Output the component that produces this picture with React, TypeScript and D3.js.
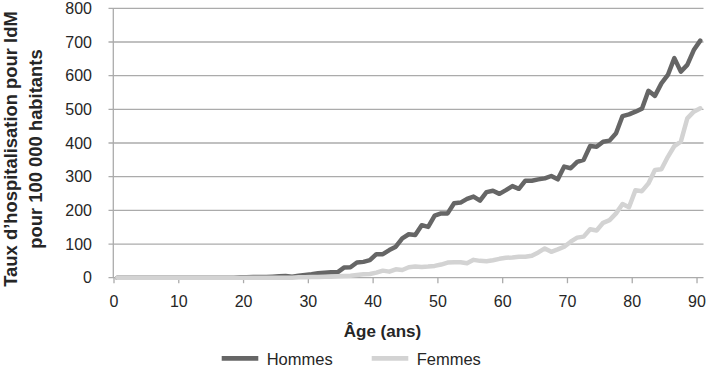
import React from 'react';
import * as d3 from 'd3';

// age in years, 0..90
const ages = d3.range(0, 91);

// hospitalisation rate per 100 000 — men
const hommes = [
  0, 0, 0, 0, 0, 0, 0, 0, 0, 0,
  0, 0, 0, 0, 0, 0, 0, 0, 0, 1,
  1, 2, 2, 2, 3, 4, 5, 3, 6, 8,
  10, 13, 15, 16, 16, 30, 31, 45, 47, 52,
  70, 70, 82, 92, 117, 129, 127, 156, 151, 184,
  191, 191, 221, 223, 234, 241, 229, 254, 258, 249,
  260, 272, 264, 288, 288, 292, 295, 302, 292, 330,
  325, 344, 350, 391, 389, 404, 407, 429, 480, 485,
  493, 502, 555, 540, 577, 602, 652, 612, 632, 676,
  704,
];

// women
const femmes = [
  0, 0, 0, 0, 0, 0, 0, 0, 0, 0,
  0, 0, 0, 0, 0, 0, 0, 0, 0, 0,
  0, 0, 0, 0, 0, 0, 0, 0, 1, 1,
  2, 2, 3, 3, 4, 5, 6, 8, 10, 11,
  15, 21, 18, 25, 23, 31, 33, 32, 33, 35,
  39, 45, 46, 46, 43, 53, 50, 49, 52, 56,
  59, 60, 62, 62, 65, 75, 87, 77, 84, 92,
  107, 119, 122, 144, 140, 163, 171, 191, 219, 209,
  260, 257, 280, 320, 322, 359, 391, 404, 473, 493,
  503,
];

const yTicks = [0, 100, 200, 300, 400, 500, 600, 700, 800];
const xTicks = [0, 10, 20, 30, 40, 50, 60, 70, 80, 90];

const series = [
  { name: 'Hommes', values: hommes, color: '#666666' },
  { name: 'Femmes', values: femmes, color: '#d3d3d3' },
];

const FONT = '"Liberation Sans", Arial, sans-serif';

export default function App() {
  const W = 710;
  const H = 367;
  const left = 114;
  const right = 703.5;
  const top = 8.3;
  const bottom = 277.7;

  const x = d3.scaleLinear().domain([0, 91]).range([left, right]);
  const y = d3.scaleLinear().domain([0, 800]).range([bottom, top]);

  // points sit in the middle of each year of age
  const line = d3.line<number>()
    .x((_, i) => x(ages[i] + 0.5))
    .y((d) => y(d));

  const grid = '#ababab';
  const text = '#262626';

  return (
    <div style={{ position: 'fixed', left: 0, top: 0 }}>
      <svg width={W} height={H} style={{ display: 'block', background: '#fff' }}>
        {/* gridlines + y ticks */}
        {yTicks.map((t) => (
          <g key={t}>
            <line x1={left - 5.5} x2={right} y1={y(t)} y2={y(t)} stroke={grid} strokeWidth={1.3} />
            <text x={92} y={y(t)} dy="0.36em" textAnchor="end" fontSize={16} fontFamily={FONT} fill={text}>
              {t}
            </text>
          </g>
        ))}
        {/* y axis line */}
        <line x1={left - 0.7} x2={left - 0.7} y1={top} y2={bottom} stroke={grid} strokeWidth={1.3} />

        {/* x ticks */}
        {xTicks.map((t) => (
          <g key={t}>
            <line x1={x(t)} x2={x(t)} y1={bottom} y2={bottom + 5.5} stroke={grid} strokeWidth={1.3} />
            <text x={x(t)} y={307.3} textAnchor="middle" fontSize={16} fontFamily={FONT} fill={text}>
              {t}
            </text>
          </g>
        ))}

        {/* series */}
        {series.map((s) => (
          <path
            key={s.name}
            d={line(s.values) || ''}
            fill="none"
            stroke={s.color}
            strokeWidth={4.5}
            strokeLinejoin="round"
            strokeLinecap="round"
          />
        ))}

        {/* axis titles */}
        <text x={382.5} y={336.5} textAnchor="middle" fontSize={17} fontWeight="bold" fontFamily={FONT} fill={text}>
          Âge (ans)
        </text>
        <g transform="translate(0,149) rotate(-90)" fontSize={18.4} fontWeight="bold" fontFamily={FONT} fill={text}>
          <text x={0} y={16.7} textAnchor="middle">Taux d’hospitalisation pour IdM</text>
          <text x={0} y={41.5} textAnchor="middle">pour 100 000 habitants</text>
        </g>

        {/* legend */}
        {series.map((s, i) => {
          const lx = i === 0 ? 221.7 : 371.7;
          return (
            <g key={s.name}>
              <line x1={lx} x2={lx + 36.6} y1={358.3} y2={358.3} stroke={s.color} strokeWidth={4.7} />
              <text x={lx + 45} y={365} fontSize={16.5} fontFamily={FONT} fill={text}>
                {s.name}
              </text>
            </g>
          );
        })}
      </svg>
    </div>
  );
}
